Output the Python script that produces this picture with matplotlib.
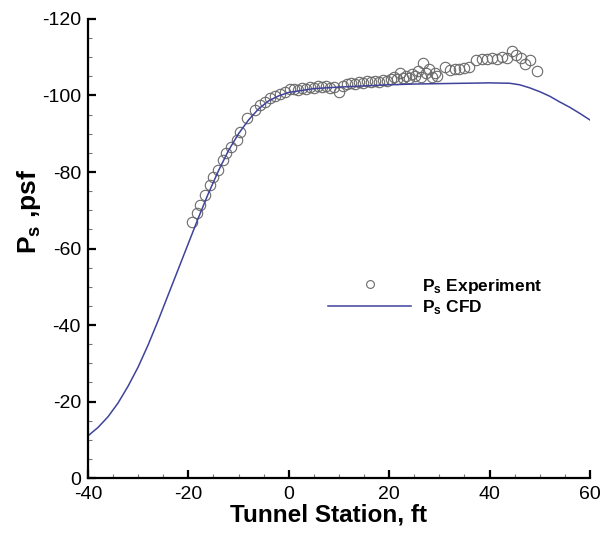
import numpy as np
import matplotlib
matplotlib.use('Agg')
import matplotlib.pyplot as plt
from matplotlib.ticker import MultipleLocator

plt.rcParams['font.family'] = ['Liberation Sans', 'DejaVu Sans']
plt.rcParams['mathtext.fontset'] = 'custom'
plt.rcParams['mathtext.rm'] = 'Liberation Sans'
plt.rcParams['mathtext.bf'] = 'Liberation Sans:bold'
plt.rcParams['axes.unicode_minus'] = False

# CFD static pressure along the tunnel
cfd_station = [-40, -38, -36, -34, -32, -30, -28, -26, -24, -22, -20, -18, -16, -14,
               -12, -10, -8, -6, -4, -2, 0, 5, 10, 15, 20, 25, 30, 35, 40, 44,
               46, 48, 50, 52, 54, 56, 58, 60]
cfd_ps = [-11.0, -13.2, -16.0, -19.6, -24.0, -29.0, -34.8, -41.2, -47.9, -54.6, -61.3,
          -68.0, -74.4, -80.3, -85.6, -90.0, -93.6, -96.5, -98.6, -99.9, -100.8, -101.8,
          -102.2, -102.5, -102.8, -103.0, -103.1, -103.2, -103.3, -103.2, -102.8, -102.0,
          -101.0, -99.8, -98.3, -96.9, -95.3, -93.6]

# measured static pressure
exp_station = [-19.3, -18.3, -17.7, -16.7, -15.7, -15.0, -14.0, -13.0, -12.4, -11.4,
               -10.4, -9.7, -8.4, -6.8, -5.7, -4.7, -3.7, -2.7, -1.8, -0.8, 0.2,
               1.0, 1.8, 2.6, 3.4, 4.2, 5.0, 5.8, 6.6, 7.4, 8.2, 9.0, 10.0, 10.8,
               11.6, 12.4, 13.2, 14.0, 14.8, 15.6, 16.4, 17.2, 18.0, 18.8, 19.6, 20.4,
               21.0, 21.6, 22.2, 22.8, 23.4, 24.0, 24.6, 25.2, 25.8, 26.4, 26.8, 27.4,
               28.0, 28.6, 29.2, 29.6, 31.2, 32.2, 33.2, 34.0, 35.0, 36.0, 37.4, 38.4,
               39.4, 40.4, 41.4, 42.4, 43.4, 44.4, 45.2, 46.2, 47.0, 48.0, 49.4]
exp_ps = [-67.0, -69.2, -71.4, -74.0, -76.6, -78.8, -80.5, -83.1, -84.9, -86.6,
          -88.4, -90.5, -94.0, -96.2, -97.5, -98.4, -99.3, -99.9, -100.4, -101.0, -101.6,
          -101.8, -101.5, -102.0, -101.7, -102.2, -101.9, -102.4, -102.1, -102.5, -102.0,
          -102.3, -101.0, -102.6, -102.9, -103.2, -103.0, -103.5, -103.3, -103.8, -103.5,
          -103.9, -103.6, -104.0, -103.8, -104.3, -104.8, -104.2, -106.0, -104.5, -105.2,
          -104.6, -105.5, -105.0, -106.3, -104.8, -108.5, -105.8, -107.0, -104.9, -106.0,
          -105.2, -107.5, -106.6, -107.0, -106.8, -107.2, -107.4, -109.3, -109.6, -109.5,
          -109.8, -109.6, -110.0, -109.8, -111.6, -110.5, -109.7, -108.2, -109.2, -106.3]

fig = plt.figure(figsize=(6.02, 5.35), dpi=100)
ax = fig.add_axes([0.146, 0.1065, 0.834, 0.858])

ax.plot(exp_station, exp_ps, linestyle='none', marker='o', markersize=7.5,
        markerfacecolor='none', markeredgecolor='#6a6a6a', markeredgewidth=0.8,
        label=r'$\mathbf{P_s}$ Experiment')
ax.plot(cfd_station, cfd_ps, color='#3f439b', linewidth=1.1,
        label=r'$\mathbf{P_s}$ CFD')

ax.set_xlim(-40, 60)
ax.set_ylim(0, -120)

ax.xaxis.set_major_locator(MultipleLocator(20))
ax.xaxis.set_minor_locator(MultipleLocator(5))
ax.yaxis.set_major_locator(MultipleLocator(20))
ax.yaxis.set_minor_locator(MultipleLocator(5))

ax.spines['top'].set_visible(False)
ax.spines['right'].set_visible(False)
for s in ['left', 'bottom']:
    ax.spines[s].set_linewidth(1.6)

ax.tick_params(which='major', direction='in', length=6, width=1.6, labelsize=14)
ax.tick_params(axis='y', which='major', pad=5)
ax.tick_params(axis='x', which='major', pad=6)
ax.tick_params(which='minor', direction='in', length=3, width=0.8, color='#777777')

ax.set_xlabel('Tunnel Station, ft', fontsize=17.5, fontweight='bold')
ax.set_ylabel(r'$\mathbf{P_s}$ ,psf', fontsize=19, fontweight='bold')
ax.yaxis.set_label_coords(-0.09, 0.58)
ax.xaxis.set_label_coords(0.48, -0.056)

leg = ax.legend(loc='center left', bbox_to_anchor=(0.478, 0.395), frameon=False,
                borderpad=0, borderaxespad=0, handlelength=4.8, handletextpad=0.6,
                labelspacing=0.15, markerscale=0.75,
                prop={'size': 12.5, 'weight': 'bold'})

fig.savefig('out.png', dpi=100)
